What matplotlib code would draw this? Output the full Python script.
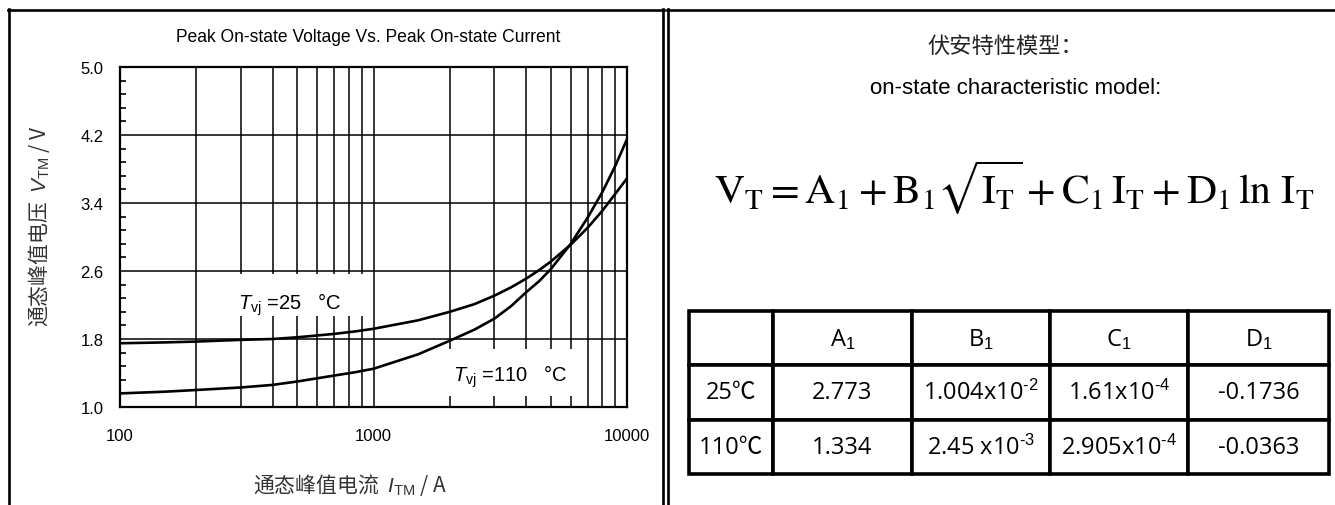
import matplotlib
matplotlib.use("Agg")
import matplotlib.pyplot as plt
import numpy as np
from matplotlib.patches import Rectangle
from matplotlib.lines import Line2D

W, H = 1335, 506

# --- data ---
current = [100, 150, 200, 300, 400, 500, 700, 850, 1000, 1500, 2000, 2500, 3000,
           3500, 4000, 4500, 5000, 6000, 7000, 8000, 9000, 10000]
v_25 = [1.75, 1.76, 1.77, 1.79, 1.80, 1.82, 1.86, 1.89, 1.92, 2.02, 2.12, 2.21, 2.31,
        2.41, 2.51, 2.61, 2.71, 2.91, 3.11, 3.31, 3.51, 3.69]
v_110 = [1.16, 1.18, 1.20, 1.23, 1.26, 1.30, 1.37, 1.41, 1.45, 1.62, 1.78, 1.91, 2.04,
         2.19, 2.35, 2.48, 2.62, 2.92, 3.23, 3.53, 3.84, 4.15]

y_ticks = [1.0, 1.8, 2.6, 3.4, 4.2, 5.0]
x_ticks = [100, 1000, 10000]

col_labels = ["", "A$_1$", "B$_1$", "C$_1$", "D$_1$"]
row_25 = ["25℃", "2.773", r"1.004x10$^{\text{-2}}$", r"1.61x10$^{\text{-4}}$", "-0.1736"]
row_110 = ["110℃", "1.334", r"2.45 x10$^{\text{-3}}$", r"2.905x10$^{\text{-4}}$", "-0.0363"]

plt.rcParams['font.family'] = ['Liberation Sans', 'Noto Sans CJK SC']
plt.rcParams['mathtext.fontset'] = 'custom'
plt.rcParams['mathtext.rm'] = 'Liberation Sans'
plt.rcParams['mathtext.it'] = 'Liberation Sans:italic'


def px(x, y):
    return x / W, 1 - y / H


fig = plt.figure(figsize=(W / 100, H / 100), dpi=100)

# panel frames
for x0 in [9, 663, 667.5]:
    fig.add_artist(Line2D([x0 / W, x0 / W], [1 - 9.5 / H, -0.05], color='black', lw=1.9))
for x0, x1 in [(8, 664), (666.5, 1340)]:
    fig.add_artist(Line2D([x0 / W, x1 / W], [1 - 10.5 / H, 1 - 10.5 / H], color='black', lw=1.9))

# --- left: plot ---
ax = fig.add_axes([120 / W, 1 - 408 / H, (627 - 120) / W, (408 - 68) / H])
ax.set_xscale('log')
ax.set_xlim(100, 10000)
ax.set_ylim(1.0, 5.0)
ax.set_axisbelow(True)
ax.plot(current, v_25, color='black', lw=1.9, zorder=5)
ax.plot(current, v_110, color='black', lw=1.9, zorder=5)

ax.set_yticks(y_ticks)
ax.set_yticklabels([f"{v:.1f}" for v in y_ticks])
ax.set_yticks(np.arange(1.0, 5.0, 0.16), minor=True)
ax.set_xticks(x_ticks)
ax.set_xticklabels([str(v) for v in x_ticks])
ax.tick_params(axis='both', which='major', length=0, labelsize=12, pad=12)
ax.tick_params(axis='x', which='major', pad=15)
ax.tick_params(axis='y', which='minor', direction='in', length=4, width=1.2)
ax.tick_params(axis='x', which='minor', length=0, labelbottom=False)
ax.grid(True, which='major', axis='y', color='black', lw=1.1)
ax.grid(True, which='both', axis='x', color='black', lw=1.1)
for s in ax.spines.values():
    s.set_linewidth(1.6)
    s.set_zorder(6)

# white patches behind the curve labels
ax.add_patch(Rectangle((287, 2.07), 942 - 287, 2.565 - 2.07, facecolor='white',
                       edgecolor='none', zorder=1))
ax.add_patch(Rectangle((1968, 1.13), 6237 - 1968, 1.682 - 1.13, facecolor='white',
                       edgecolor='none', zorder=1))
ax.text(292, 2.21, "$T_{\\mathrm{vj}}$ =25   °C", fontsize=14.5, va='center', ha='left', zorder=6)
ax.text(2059, 1.365, "$T_{\\mathrm{vj}}$ =110   °C", fontsize=14.5, va='center', ha='left', zorder=6)

fig.text(*px(368, 38), "Peak On-state Voltage Vs. Peak On-state Current", fontsize=12.65,
         ha='center', va='center')
fig.text(*px(39, 226), "通态峰值电压  $V_{\\mathrm{TM}}$ / V", fontsize=15, rotation=90,
         ha='center', va='center', color='#333333', family=['Noto Sans CJK SC'])
fig.text(*px(350, 485), "通态峰值电流  $I_{\\mathrm{TM}}$ / A", fontsize=15,
         ha='center', va='center', color='#333333', family=['Noto Sans CJK SC'])

# --- right: model text ---
fig.text(*px(1005, 46), "伏安特性模型：", fontsize=16, ha='center', va='center',
         family=['Noto Sans CJK SC'], color='#222222')
fig.text(*px(1016, 88), "on-state characteristic model:", fontsize=16, ha='center', va='center')
fig.text(*px(1014, 188),
         r"$\mathrm{V_T = A_1 + B_1\sqrt{I_T} + C_1\,I_T + D_1\,\ln\,I_T}$",
         fontsize=30, ha='center', va='center', math_fontfamily='stix')

# --- table ---
ax_t = fig.add_axes([689 / W, 1 - 475 / H, (1329 - 689) / W, (475 - 312) / H])
ax_t.axis('off')
widths = np.array([773 - 689, 912 - 773, 1050 - 912, 1188 - 1050, 1329 - 1188], float)
tbl = ax_t.table(cellText=[row_25, row_110], colLabels=col_labels,
                 colWidths=list(widths / widths.sum()), bbox=[0, 0, 1, 1], cellLoc='center')
tbl.auto_set_font_size(False)
for (r, c), cell in tbl.get_celld().items():
    cell.set_linewidth(2.6)
    cell.set_edgecolor('black')
    t = cell.get_text()
    t.set_fontsize(17)
    t.set_family(['Open Sans', 'Noto Sans CJK SC'])

fig.savefig("out.png", dpi=100)
